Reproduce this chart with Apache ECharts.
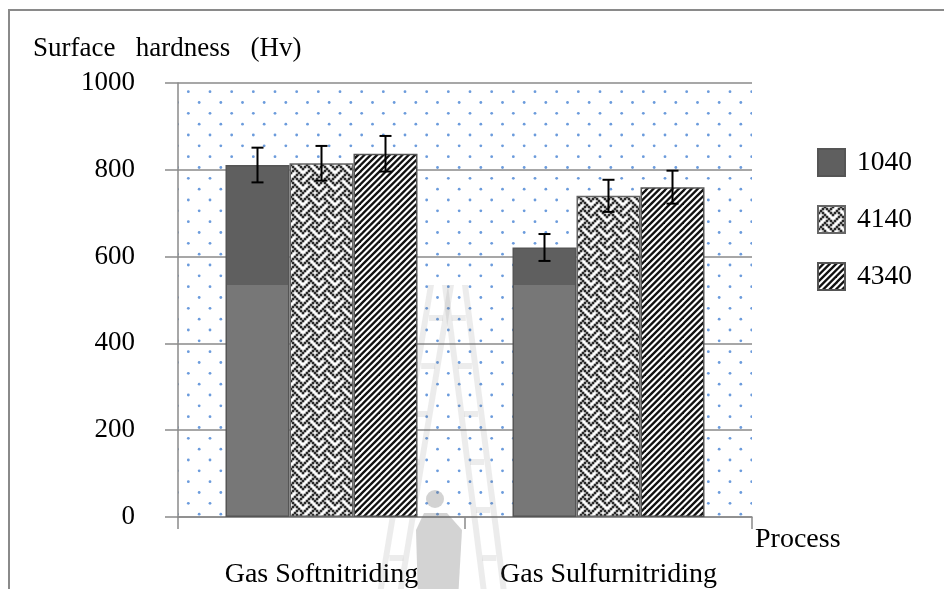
<!DOCTYPE html>
<html>
<head>
<meta charset="utf-8">
<script src="https://cdn.jsdelivr.net/npm/echarts@6/dist/echarts.min.js"></script>
<style>
  html, body { margin: 0; padding: 0; background: #ffffff; }
  #chart { width: 944px; height: 589px; }
</style>
</head>
<body>
<div id="chart"></div>
<script>
// ---- data ----
const categories = ['Gas Softnitriding', 'Gas Sulfurnitriding'];
const steelGrades = ['1040', '4140', '4340'];
const hardness1040 = [811, 621];
const hardness4140 = [815, 740];
const hardness4340 = [837, 760];
const error1040 = [40, 31];
const error4140 = [40, 37];
const error4340 = [41, 38];
const yMin = 0, yMax = 1000, yStep = 200;
const yTitle = 'Surface\u2002 hardness\u2002 (Hv)';
const xTitle = 'Process';

// ---- fill patterns ----
const FONT = 'Liberation Serif';
const BAR_RATIO = 0.223;

function dotTile() {
  const p = 65 / 3; // dot spacing
  const c = document.createElement('canvas');
  c.width = 65; c.height = 65;
  const g = c.getContext('2d');
  g.fillStyle = '#ffffff';
  g.fillRect(0, 0, 65, 65);
  g.fillStyle = '#6b9bdc';
  const ox = 15, oy = 5;
  for (let i = -1; i <= 3; i++) {
    for (let j = -1; j <= 3; j++) {
      const pts = [[ox + i * p, oy + j * p], [ox + i * p + p / 2, oy + j * p + p / 2]];
      pts.forEach(([x, y]) => {
        g.beginPath();
        g.arc(x, y, 1.4, 0, Math.PI * 2);
        g.fill();
      });
    }
  }
  return c;
}

function weaveTile() {
  const rows = [0x11, 0x2a, 0x44, 0xa2, 0x11, 0x28, 0x44, 0x8a];
  const k = 2, size = 16;
  const c = document.createElement('canvas');
  c.width = size; c.height = size;
  const g = c.getContext('2d');
  g.fillStyle = '#ffffff';
  g.fillRect(0, 0, size, size);
  g.fillStyle = '#2a2a2a';
  rows.forEach((r, y) => {
    for (let x = 0; x < 8; x++) {
      if (r & (0x80 >> x)) {
        for (const ox of [-size, 0, size]) {
          for (const oy of [-size, 0, size]) {
            g.fillRect(x * k - 0.3 + ox, y * k - 0.3 + oy, k + 0.6, k + 0.6);
          }
        }
      }
    }
  });
  return c;
}

function stripeTile() {
  const size = 19, period = size / 3;
  const c = document.createElement('canvas');
  c.width = size; c.height = size;
  const g = c.getContext('2d');
  g.fillStyle = '#ffffff';
  g.fillRect(0, 0, size, size);
  g.strokeStyle = '#111111';
  g.lineWidth = period / Math.SQRT2 * 0.52;
  for (let k = -2; k <= 8; k++) {
    const d = k * period;
    g.beginPath();
    g.moveTo(d - 2 * size, 2 * size);
    g.lineTo(d + 2 * size, -2 * size);
    g.stroke();
  }
  return c;
}

const dotFill = { image: dotTile(), repeat: 'repeat' };
const weaveFill = { image: weaveTile(), repeat: 'repeat' };
const stripeFill = { image: stripeTile(), repeat: 'repeat' };
const solidFill = {
  type: 'linear', x: 0, y: 0, x2: 0, y2: 589, global: true,
  colorStops: [
    { offset: 0, color: '#5f5f5f' },
    { offset: 285 / 589, color: '#5f5f5f' },
    { offset: 285 / 589, color: '#777777' },
    { offset: 1, color: '#777777' }
  ]
};

// ---- error bars ----
function errorData(values, errs, k) {
  return values.map((v, i) => [i, v, errs[i], k]);
}
const errorItems = []
  .concat(errorData(hardness1040, error1040, 0))
  .concat(errorData(hardness4140, error4140, 1))
  .concat(errorData(hardness4340, error4340, 2));

function renderError(params, api) {
  const cat = api.value(0), v = api.value(1), e = api.value(2), k = api.value(3);
  const band = api.size([1, 0])[0];
  const bw = band * BAR_RATIO;
  const x = api.coord([cat, v])[0] + (k - 1) * bw;
  const yTop = api.coord([cat, v + e])[1];
  const yBot = api.coord([cat, v - e])[1];
  const cap = 6;
  const st = { stroke: '#000000', lineWidth: 2 };
  return {
    type: 'group',
    children: [
      { type: 'line', shape: { x1: x, y1: yTop, x2: x, y2: yBot }, style: st },
      { type: 'line', shape: { x1: x - cap, y1: yTop, x2: x + cap, y2: yTop }, style: st },
      { type: 'line', shape: { x1: x - cap, y1: yBot, x2: x + cap, y2: yBot }, style: st }
    ]
  };
}

// ---- faint emblem behind the bars ----
const emblemColor = 'rgba(110,110,110,0.13)';
const emblemBody = 'rgba(110,110,110,0.3)';
function ladder(xTop, yTop, xBot, yBot, width) {
  const parts = [];
  const rail = 6;
  const dx = xBot - xTop;
  const quad = (off) => ({
    type: 'polygon', z: 1, silent: true,
    shape: { points: [[xTop + off, yTop], [xTop + off + rail, yTop], [xBot + off + rail, yBot], [xBot + off, yBot]] },
    style: { fill: emblemColor }
  });
  parts.push(quad(0));
  parts.push(quad(width - rail));
  for (let y = yTop + 30; y < yBot - 10; y += 48) {
    const t = (y - yTop) / (yBot - yTop);
    const x = xTop + dx * t;
    parts.push({
      type: 'rect', z: 1, silent: true,
      shape: { x: x + rail, y: y, width: width - 2 * rail, height: 6 },
      style: { fill: emblemColor }
    });
  }
  return parts;
}
const emblem = []
  .concat(ladder(428, 285, 376, 600, 26))
  .concat(ladder(442, 285, 482, 600, 26))
  .concat([
    { type: 'circle', z: 1, silent: true, shape: { cx: 435, cy: 499, r: 9 }, style: { fill: emblemBody } },
    {
      type: 'polygon', z: 1, silent: true,
      shape: { points: [[424, 513], [447, 513], [462, 530], [458, 600], [418, 600], [416, 530]] },
      style: { fill: emblemBody }
    }
  ]);

// ---- chart ----
const chart = echarts.init(document.getElementById('chart'), null, { renderer: 'canvas' });

const barBase = {
  type: 'bar',
  barWidth: (BAR_RATIO * 100) + '%',
  barGap: '0%',
  z: 3
};

chart.setOption({
  backgroundColor: '#ffffff',
  animation: false,
  textStyle: { fontFamily: FONT, color: '#000000' },
  grid: {
    left: 178, top: 83, width: 574, height: 435,
    show: true, backgroundColor: dotFill, borderWidth: 0
  },
  legend: {
    data: steelGrades,
    orient: 'vertical',
    left: 812, top: 143,
    itemWidth: 27, itemHeight: 27, itemGap: 28,
    icon: 'rect',
    textStyle: { fontFamily: FONT, fontSize: 27.5, color: '#000000', padding: [0, 0, 0, 7] }
  },
  xAxis: {
    type: 'category',
    data: categories,
    axisLine: { lineStyle: { color: '#8a8a8a', width: 1.5 } },
    axisTick: { show: true, length: 12, lineStyle: { color: '#8a8a8a', width: 1.5 } },
    axisLabel: { fontFamily: FONT, fontSize: 28, color: '#000000', margin: 44 },
    splitLine: { show: false }
  },
  yAxis: {
    type: 'value',
    min: yMin, max: yMax, interval: yStep,
    axisLine: { show: true, lineStyle: { color: '#8a8a8a', width: 1.5 } },
    axisTick: { show: true, length: 13, lineStyle: { color: '#8a8a8a', width: 1.5 } },
    axisLabel: {
      fontFamily: FONT, fontSize: 27, color: '#000000', margin: 43,
      formatter: (v) => String(v)
    },
    splitLine: { show: true, lineStyle: { color: '#8a8a8a', width: 1.5 } }
  },
  graphic: [
    {
      type: 'rect', z: 10, silent: true,
      shape: { x: 9, y: 10, width: 960, height: 620 },
      style: { fill: 'none', stroke: '#8a8a8a', lineWidth: 2 }
    },
    {
      type: 'text', z: 10, left: 33, top: 35,
      style: { text: yTitle, font: '27px "Liberation Serif"', fill: '#000000' }
    },
    {
      type: 'text', z: 10, left: 755, top: 526,
      style: { text: xTitle, font: '28px "Liberation Serif"', fill: '#000000' }
    }
  ].concat(emblem),
  series: [
    Object.assign({}, barBase, {
      name: steelGrades[0], data: hardness1040,
      itemStyle: { color: solidFill, borderColor: '#555555', borderWidth: 1.5 }
    }),
    Object.assign({}, barBase, {
      name: steelGrades[1], data: hardness4140,
      itemStyle: { color: weaveFill, borderColor: '#666666', borderWidth: 1.5 }
    }),
    Object.assign({}, barBase, {
      name: steelGrades[2], data: hardness4340,
      itemStyle: { color: stripeFill, borderColor: '#555555', borderWidth: 1.5 }
    }),
    {
      type: 'custom',
      name: 'error',
      renderItem: renderError,
      data: errorItems,
      encode: { x: 0, y: 1 },
      z: 5,
      silent: true
    }
  ]
});
</script>
</body>
</html>
